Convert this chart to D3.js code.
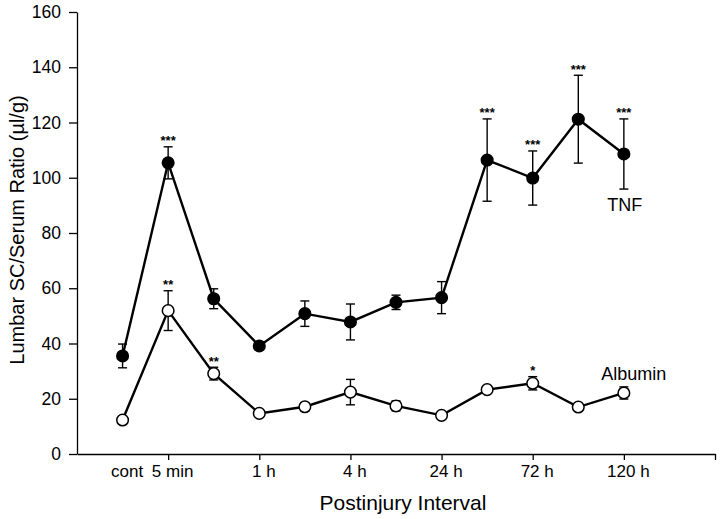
<!DOCTYPE html>
<html>
<head>
<meta charset="utf-8">
<script src="https://cdn.jsdelivr.net/npm/d3@7"></script>
<style>
  html, body { margin: 0; padding: 0; background: #fff; }
  svg { display: block; font-family: "Liberation Sans", Arial, Helvetica, sans-serif; }
</style>
</head>
<body>
<div id="chart"></div>
<script>
// ---- Data ----
const categories = ["cont", "5 min", "30 min", "1 h", "2 h", "4 h", "8 h", "24 h", "48 h", "72 h", "96 h", "120 h"];
const labeledCategories = ["cont", "5 min", "1 h", "4 h", "24 h", "72 h", "120 h"];
const tnfMean = [35.5, 105.4, 56.2, 39.1, 50.8, 47.8, 54.9, 56.6, 106.4, 99.9, 121.2, 108.6];
const tnfErr  = [4.3, 5.8, 3.6, 1.5, 4.6, 6.5, 2.6, 5.8, 14.9, 9.8, 15.9, 12.7];
const tnfSig  = ["", "***", "", "", "", "", "", "", "***", "***", "***", "***"];
const albMean = [12.3, 51.9, 29.1, 14.7, 17.1, 22.4, 17.4, 14.0, 23.3, 25.6, 17.0, 22.1];
const albErr  = [1.0, 7.2, 2.3, 0.8, 1.5, 4.6, 1.8, 0.8, 1.0, 2.4, 0.8, 2.2];
const albSig  = ["", "**", "**", "", "", "", "", "", "", "*", "", ""];
const yTicks  = [0, 20, 40, 60, 80, 100, 120, 140, 160];
const seriesNames = ["TNF", "Albumin"];
const xTitle = "Postinjury Interval";
const yTitle = "Lumbar SC/Serum Ratio (\u00b5l/g)";

// ---- Layout ----
const W = 720, H = 519;
const svg = d3.select("#chart").append("svg").attr("width", W).attr("height", H);

const x = d3.scaleLinear().domain([-1, categories.length + 1]).range([77, 715]);
const y = d3.scaleLinear().domain([0, 160]).range([454, 12]);

// Y axis
const yAxis = svg.append("g").attr("transform", `translate(${x(-1)},0)`)
  .call(d3.axisLeft(y).tickValues(yTicks).tickSize(8).tickSizeOuter(0).tickPadding(8));
yAxis.selectAll("text").attr("font-size", 17.5).attr("fill", "#000").attr("font-family", null);
yAxis.selectAll("line, path").attr("stroke", "#000").attr("stroke-width", 1.3);

// X axis
const xTickVals = labeledCategories.map(c => categories.indexOf(c)).concat([categories.length + 1]);
const xAxis = svg.append("g").attr("transform", `translate(0,${y(0)})`)
  .call(d3.axisBottom(x).tickValues(xTickVals).tickSize(6).tickSizeOuter(0).tickPadding(5)
    .tickFormat(i => categories[i] || ""));
xAxis.selectAll("text").attr("font-size", 17).attr("fill", "#000").attr("dx", 4).attr("font-family", null);
xAxis.selectAll("line, path").attr("stroke", "#000").attr("stroke-width", 1.3);
xAxis.selectAll(".tick").filter(d => d === 0).select("line").remove();

// Titles
svg.append("text").attr("x", 403).attr("y", 510).attr("text-anchor", "middle")
  .attr("font-size", 21).text(xTitle);
svg.append("text").attr("transform", `translate(24,${(y(0) + y(160)) / 2 - 3}) rotate(-90)`)
  .attr("text-anchor", "middle").attr("font-size", 20).text(yTitle);

// Series
function drawSeries(mean, err, sig, filled) {
  const idx = d3.range(mean.length);
  const g = svg.append("g");
  g.append("path")
    .attr("d", d3.line().x(i => x(i)).y(i => y(mean[i]))(idx))
    .attr("fill", "none").attr("stroke", "#000").attr("stroke-width", 2.4);
  const eb = g.selectAll(".eb").data(idx).join("g");
  eb.append("line").attr("x1", i => x(i)).attr("x2", i => x(i))
    .attr("y1", i => y(mean[i] + err[i])).attr("y2", i => y(mean[i] - err[i]))
    .attr("stroke", "#000").attr("stroke-width", 1.4);
  eb.append("line").attr("x1", i => x(i) - 4.5).attr("x2", i => x(i) + 4.5)
    .attr("y1", i => y(mean[i] + err[i])).attr("y2", i => y(mean[i] + err[i]))
    .attr("stroke", "#000").attr("stroke-width", 1.4);
  eb.append("line").attr("x1", i => x(i) - 4.5).attr("x2", i => x(i) + 4.5)
    .attr("y1", i => y(mean[i] - err[i])).attr("y2", i => y(mean[i] - err[i]))
    .attr("stroke", "#000").attr("stroke-width", 1.4);
  g.selectAll("circle").data(idx).join("circle")
    .attr("cx", i => x(i)).attr("cy", i => y(mean[i])).attr("r", 5.8)
    .attr("fill", filled ? "#000" : "#fff").attr("stroke", "#000").attr("stroke-width", 1.5);
  g.selectAll(".sig").data(idx.filter(i => sig[i])).join("text")
    .attr("x", i => x(i)).attr("y", i => y(mean[i] + err[i]) - 1.5)
    .attr("text-anchor", "middle").attr("font-size", 13).attr("font-weight", "bold")
    .text(i => sig[i]);
}
drawSeries(tnfMean, tnfErr, tnfSig, true);
drawSeries(albMean, albErr, albSig, false);

// Series labels
const last = categories.length - 1;
svg.append("text").attr("x", x(last) + 1).attr("y", y(tnfMean[last] - tnfErr[last]) + 22)
  .attr("text-anchor", "middle").attr("font-size", 18).text(seriesNames[0]);
svg.append("text").attr("x", x(last) + 10).attr("y", y(albMean[last] + albErr[last]) - 7)
  .attr("text-anchor", "middle").attr("font-size", 18).text(seriesNames[1]);
</script>
</body>
</html>
